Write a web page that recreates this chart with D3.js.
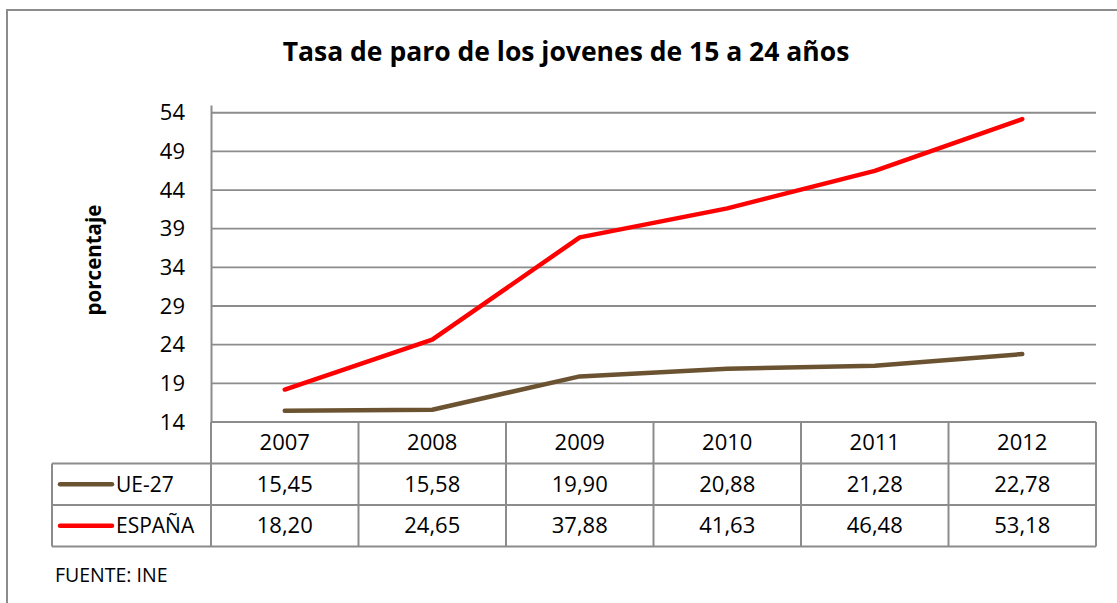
<!DOCTYPE html>
<html>
<head>
<meta charset="utf-8">
<script src="https://cdn.jsdelivr.net/npm/d3@7"></script>
<style>
  body { margin: 0; background: #fff; }
  svg { display: block; font-family: "Open Sans", sans-serif; }
</style>
</head>
<body>
<svg id="chart" width="1117" height="603"></svg>
<script>
const years = ["2007", "2008", "2009", "2010", "2011", "2012"];
const ue27 = [15.45, 15.58, 19.90, 20.88, 21.28, 22.78];
const espana = [18.20, 24.65, 37.88, 41.63, 46.48, 53.18];
const yTicks = [14, 19, 24, 29, 34, 39, 44, 49, 54];

const series = [
  { name: "UE-27", values: ue27, color: "#6b5332" },
  { name: "ESPAÑA", values: espana, color: "#ff0000" }
];

const svg = d3.select("#chart");
const grey = "#8c8c8c";
const fs = 22;

// outer frame (runs off the right/bottom edges like the source)
svg.append("rect")
  .attr("x", 7).attr("y", 10)
  .attr("width", 1130).attr("height", 620)
  .attr("fill", "none").attr("stroke", grey).attr("stroke-width", 2);

const plot = { left: 211, right: 1096, top: 105, bottom: 422 };
const rowH = 41.5;
const tableLeft = 52;

const x = d3.scaleBand().domain(years).range([plot.left, plot.right]);
const y = d3.scaleLinear().domain([14, 55]).range([plot.bottom, plot.top]);

// title
svg.append("text")
  .attr("x", 566).attr("y", 61)
  .attr("text-anchor", "middle")
  .attr("font-size", 26.5).attr("font-weight", "bold")
  .text("Tasa de paro de los jovenes de 15 a 24 años");

// y label
svg.append("text")
  .attr("transform", "translate(101,260) rotate(-90)")
  .attr("text-anchor", "middle")
  .attr("font-size", 20.5).attr("font-weight", "bold")
  .text("porcentaje");

// gridlines
svg.append("g").selectAll("line")
  .data(yTicks.slice(1))
  .join("line")
  .attr("x1", plot.left).attr("x2", plot.right)
  .attr("y1", d => y(d)).attr("y2", d => y(d))
  .attr("stroke", grey).attr("stroke-width", 1.8);

// y axis
const yAxis = svg.append("g")
  .attr("transform", `translate(${plot.left},0)`)
  .call(d3.axisLeft(y).tickValues(yTicks).tickSize(0).tickPadding(26));
yAxis.select(".domain").attr("stroke", grey).attr("stroke-width", 2);
yAxis.selectAll("text").attr("font-size", fs).attr("fill", "#000")
  .attr("font-family", "'Open Sans', sans-serif");

// table grid
const tg = svg.append("g").attr("stroke", grey).attr("stroke-width", 2).attr("fill", "none");
const bottomY = plot.bottom + rowH * 3;
[plot.bottom, plot.bottom + rowH, plot.bottom + rowH * 2, bottomY].forEach(yy => {
  tg.append("line").attr("x1", yy === plot.bottom ? plot.left : tableLeft).attr("x2", plot.right)
    .attr("y1", yy).attr("y2", yy);
});
years.forEach(yr => {
  tg.append("line").attr("x1", x(yr)).attr("x2", x(yr))
    .attr("y1", plot.bottom).attr("y2", bottomY);
});
tg.append("line").attr("x1", plot.right).attr("x2", plot.right).attr("y1", plot.bottom).attr("y2", bottomY);
tg.append("line").attr("x1", tableLeft).attr("x2", tableLeft).attr("y1", plot.bottom + rowH).attr("y2", bottomY);

// header years
svg.append("g").selectAll("text")
  .data(years)
  .join("text")
  .attr("x", d => x(d) + x.bandwidth() / 2)
  .attr("y", plot.bottom + rowH / 2)
  .attr("dy", "0.35em")
  .attr("text-anchor", "middle")
  .attr("font-size", fs)
  .text(d => d);

const fmt = v => v.toFixed(2).replace(".", ",");

series.forEach((s, i) => {
  const rowMid = plot.bottom + rowH * (i + 1) + rowH / 2;
  svg.append("line")
    .attr("x1", 60).attr("x2", 112)
    .attr("y1", rowMid).attr("y2", rowMid)
    .attr("stroke", s.color).attr("stroke-width", 4.5).attr("stroke-linecap", "round");
  svg.append("text")
    .attr("x", 116).attr("y", rowMid).attr("dy", "0.35em")
    .attr("font-size", fs - 1)
    .text(s.name);
  svg.append("g").selectAll("text")
    .data(s.values)
    .join("text")
    .attr("x", (d, j) => x(years[j]) + x.bandwidth() / 2)
    .attr("y", rowMid).attr("dy", "0.35em")
    .attr("text-anchor", "middle")
    .attr("font-size", fs)
    .text(d => fmt(d));
});

// lines
const line = d3.line()
  .x((d, j) => x(years[j]) + x.bandwidth() / 2)
  .y(d => y(d));

series.forEach(s => {
  svg.append("path")
    .datum(s.values)
    .attr("d", line)
    .attr("fill", "none")
    .attr("stroke", s.color)
    .attr("stroke-width", 4.5)
    .attr("stroke-linecap", "round")
    .attr("stroke-linejoin", "round");
});

// source
svg.append("text")
  .attr("x", 55).attr("y", 582)
  .attr("font-size", 19.5)
  .text("FUENTE: INE");
</script>
</body>
</html>
